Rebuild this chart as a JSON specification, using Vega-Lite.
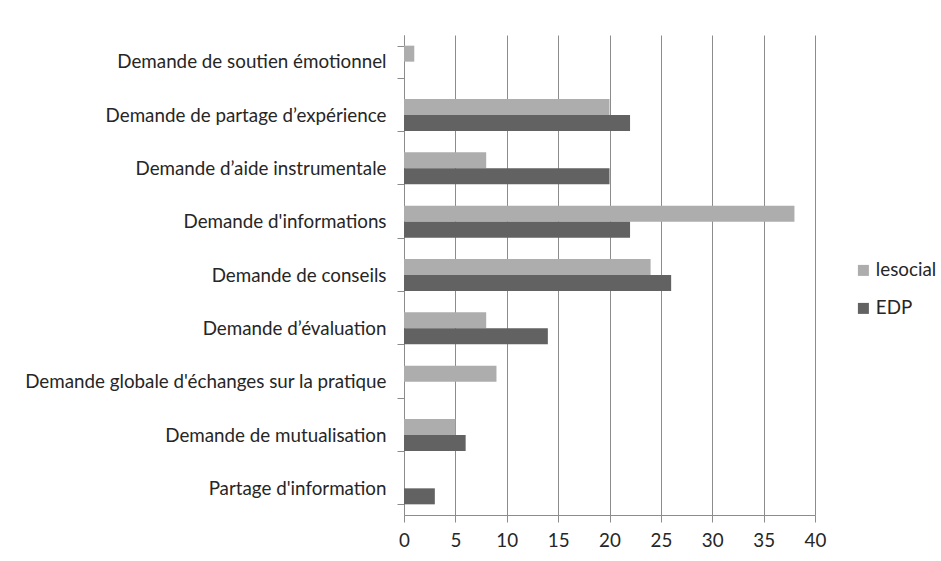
{
  "$schema": "https://vega.github.io/schema/vega-lite/v6.json",
  "width": 411,
  "height": 480,
  "autosize": {"type": "none"},
  "padding": {"left": 404, "top": 35, "right": 126, "bottom": 46},
  "background": "white",
  "config": {
    "view": {"stroke": null},
    "font": "Lato"
  },
  "data": {
    "values": [
      {"cat": "Demande de soutien émotionnel ", "serie": "lesocial", "v": 1},
      {"cat": "Demande de soutien émotionnel ", "serie": "EDP", "v": 0},
      {"cat": "Demande de partage d’expérience", "serie": "lesocial", "v": 20},
      {"cat": "Demande de partage d’expérience", "serie": "EDP", "v": 22},
      {"cat": "Demande d’aide instrumentale", "serie": "lesocial", "v": 8},
      {"cat": "Demande d’aide instrumentale", "serie": "EDP", "v": 20},
      {"cat": "Demande d'informations ", "serie": "lesocial", "v": 38},
      {"cat": "Demande d'informations ", "serie": "EDP", "v": 22},
      {"cat": "Demande de conseils ", "serie": "lesocial", "v": 24},
      {"cat": "Demande de conseils ", "serie": "EDP", "v": 26},
      {"cat": "Demande d’évaluation ", "serie": "lesocial", "v": 8},
      {"cat": "Demande d’évaluation ", "serie": "EDP", "v": 14},
      {"cat": "Demande globale d'échanges sur la pratique", "serie": "lesocial", "v": 9},
      {"cat": "Demande globale d'échanges sur la pratique", "serie": "EDP", "v": 0},
      {"cat": "Demande de mutualisation", "serie": "lesocial", "v": 5},
      {"cat": "Demande de mutualisation", "serie": "EDP", "v": 6},
      {"cat": "Partage d'information", "serie": "lesocial", "v": 0},
      {"cat": "Partage d'information", "serie": "EDP", "v": 3}
    ]
  },
  "mark": {"type": "bar"},
  "encoding": {
    "y": {
      "field": "cat",
      "type": "nominal",
      "sort": null,
      "scale": {"paddingInner": 0.4, "paddingOuter": 0.2},
      "axis": {
        "title": null,
        "domainColor": "#8c8c8c",
        "tickColor": "#8c8c8c",
        "tickBand": "extent",
        "tickSize": 7,
        "labelPadding": 11,
        "labelFontSize": 18.8,
        "labelColor": "#262626",
        "labelFont": "Lato",
        "labelLimit": 500
      }
    },
    "yOffset": {
      "field": "serie",
      "type": "nominal",
      "scale": {"domain": ["lesocial", "EDP"], "paddingInner": 0, "paddingOuter": 0}
    },
    "x": {
      "field": "v",
      "type": "quantitative",
      "scale": {"domain": [0, 40], "nice": false},
      "axis": {
        "title": null,
        "values": [0, 5, 10, 15, 20, 25, 30, 35, 40],
        "grid": true,
        "gridColor": "#8c8c8c",
        "domainColor": "#8c8c8c",
        "tickColor": "#8c8c8c",
        "tickSize": 7,
        "labelPadding": 9,
        "labelFontSize": 18.8,
        "labelColor": "#262626",
        "labelFont": "Lato",
        "labelFlush": false
      }
    },
    "color": {
      "field": "serie",
      "type": "nominal",
      "scale": {"domain": ["lesocial", "EDP"], "range": ["#adadad", "#626262"]},
      "legend": {
        "title": null,
        "orient": "none",
        "legendX": 450,
        "legendY": 226,
        "symbolType": "square",
        "symbolSize": 121,
        "symbolStrokeWidth": 0,
        "labelFontSize": 18.8,
        "labelColor": "#262626",
        "labelFont": "Lato",
        "rowPadding": 18,
        "labelOffset": 3
      }
    }
  }
}
